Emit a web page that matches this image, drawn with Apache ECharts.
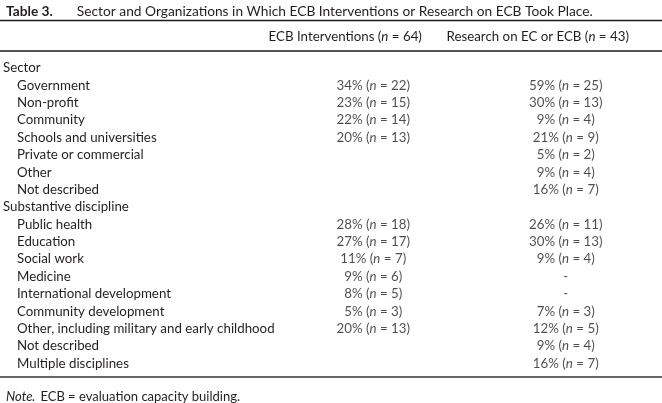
<!DOCTYPE html>
<html><head><meta charset="utf-8">
<script src="https://cdn.jsdelivr.net/npm/echarts@6/dist/echarts.min.js"></script>
<style>html,body{margin:0;padding:0;background:#fff}#c{width:662px;height:403px}</style>
</head><body><div id="c"></div>
<script>
// ---- data ----
const tableLabel = 'Table 3.';
const tableTitle = 'Sector and Organizations in Which ECB Interventions or Research on ECB Took Place.';
const columns = ['', 'ECB Interventions', 'Research on EC or ECB'];
const columnN = [null, 64, 43];
const groupNames = ['Sector', 'Substantive discipline'];
const sectorRows = ['Government', 'Non-profit', 'Community', 'Schools and universities', 'Private or commercial', 'Other', 'Not described'];
const sectorEcbPct = [34, 23, 22, 20, null, null, null];
const sectorEcbN   = [22, 15, 14, 13, null, null, null];
const sectorResPct = [59, 30, 9, 21, 5, 9, 16];
const sectorResN   = [25, 13, 4, 9, 2, 4, 7];
const disciplineRows = ['Public health', 'Education', 'Social work', 'Medicine', 'International development', 'Community development', 'Other, including military and early childhood', 'Not described', 'Multiple disciplines'];
const disciplineEcbPct = [28, 27, 11, 9, 8, 5, 20, null, null];
const disciplineEcbN   = [18, 17, 7, 6, 5, 3, 13, null, null];
const disciplineResPct = [26, 30, 9, '-', '-', 7, 12, 9, 16];
const disciplineResN   = [11, 13, 4, null, null, 3, 5, 4, 7];
const noteLabel = 'Note.';
const noteText = 'ECB = evaluation capacity building.';

// ---- build table rows ----
const rowNames = [], isGroup = [], ecbPct = [], ecbN = [], resPct = [], resN = [];
function addGroup(name, rows, ep, en, rp, rn) {
  rowNames.push(name); isGroup.push(true); ecbPct.push(null); ecbN.push(null); resPct.push(null); resN.push(null);
  rows.forEach((r, i) => {
    rowNames.push(r); isGroup.push(false);
    ecbPct.push(ep[i]); ecbN.push(en[i]); resPct.push(rp[i]); resN.push(rn[i]);
  });
}
addGroup(groupNames[0], sectorRows, sectorEcbPct, sectorEcbN, sectorResPct, sectorResN);
addGroup(groupNames[1], disciplineRows, disciplineEcbPct, disciplineEcbN, disciplineResPct, disciplineResN);

function cellData(col, pct, n) {
  const out = [];
  pct.forEach((p, i) => { if (p !== null) out.push([col, i, p, n[i]]); });
  return out;
}
function cellText(p) {
  const v = p.data;
  if (v[2] === '-') return '-';
  return v[2] + '% ({it|n} = ' + v[3] + ')';
}

const FONT = 'Lato';
const FS = 13.3;
const INK = '#231f20';
const gridLeft = 83.5;

const chart = echarts.init(document.getElementById('c'), null, {renderer: 'canvas'});
const cellLabel = {
  show: true, position: 'inside', formatter: cellText,
  color: INK, fontFamily: FONT, fontSize: FS, align: 'center', verticalAlign: 'middle',
  rich: { it: { fontStyle: 'italic', fontFamily: FONT, fontSize: FS, color: INK } }
};
chart.setOption({
  animation: false,
  backgroundColor: '#ffffff',
  title: [{
    text: '{b|' + tableLabel + '}{r|' + tableTitle + '}',
    left: 1, top: 0,
    textStyle: {
      fontWeight: 'normal',
      rich: {
        b: { fontFamily: FONT, fontWeight: 'bold', fontSize: 13.75, color: INK },
        r: { fontFamily: FONT, fontWeight: 'normal', fontSize: 13.75, color: INK, padding: [0, 0, 0, 24] }
      }
    }
  }, {
    text: '{i|' + noteLabel + '} {r|' + noteText + '}',
    left: 1, top: 383,
    textStyle: {
      fontWeight: 'normal',
      rich: {
        i: { fontFamily: FONT, fontStyle: 'italic', fontWeight: 'normal', fontSize: 13, color: INK },
        r: { fontFamily: FONT, fontWeight: 'normal', fontSize: 13, color: INK }
      }
    }
  }],
  grid: { left: gridLeft, right: 0, top: 59.3, bottom: 30.9, containLabel: false },
  xAxis: {
    type: 'category', data: columns, position: 'top', boundaryGap: true,
    axisLine: { show: false }, axisTick: { show: false }, splitLine: { show: false },
    axisLabel: {
      interval: 0, margin: 16, color: INK, fontFamily: FONT, fontSize: FS,
      padding: [0, 56, 0, 0],
      formatter: (v, i) => i === 0 ? '' : v + ' ({it|n} = ' + columnN[i] + ')',
      rich: { it: { fontStyle: 'italic', fontFamily: FONT, fontSize: FS, color: INK } }
    }
  },
  yAxis: {
    type: 'category', inverse: true, data: rowNames.map((_, i) => String(i)),
    axisLine: { show: false }, axisTick: { show: false }, splitLine: { show: false },
    axisLabel: {
      interval: 0, align: 'left', margin: gridLeft - 2, color: INK,
      formatter: (v, i) => isGroup[i] ? '{g|' + rowNames[i] + '}' : '{s|' + rowNames[i] + '}',
      rich: {
        g: { fontFamily: FONT, fontSize: FS, color: INK },
        s: { fontFamily: FONT, fontSize: FS, color: INK, padding: [0, 0, 0, 14] }
      }
    }
  },
  graphic: [
    { type: 'line', shape: { x1: 0, y1: 20.5, x2: 662, y2: 20.5 }, style: { stroke: '#1a1a1a', lineWidth: 1.6 } },
    { type: 'line', shape: { x1: 0, y1: 51, x2: 662, y2: 51 }, style: { stroke: '#1a1a1a', lineWidth: 1.3 } },
    { type: 'line', shape: { x1: 0, y1: 377, x2: 662, y2: 377 }, style: { stroke: '#666666', lineWidth: 2 } }
  ],
  series: [
    { type: 'scatter', symbolSize: 1, itemStyle: { color: 'rgba(0,0,0,0)' }, data: cellData(1, ecbPct, ecbN), label: cellLabel },
    { type: 'scatter', symbolSize: 1, itemStyle: { color: 'rgba(0,0,0,0)' }, data: cellData(2, resPct, resN), label: cellLabel }
  ]
});
</script>
</body></html>
